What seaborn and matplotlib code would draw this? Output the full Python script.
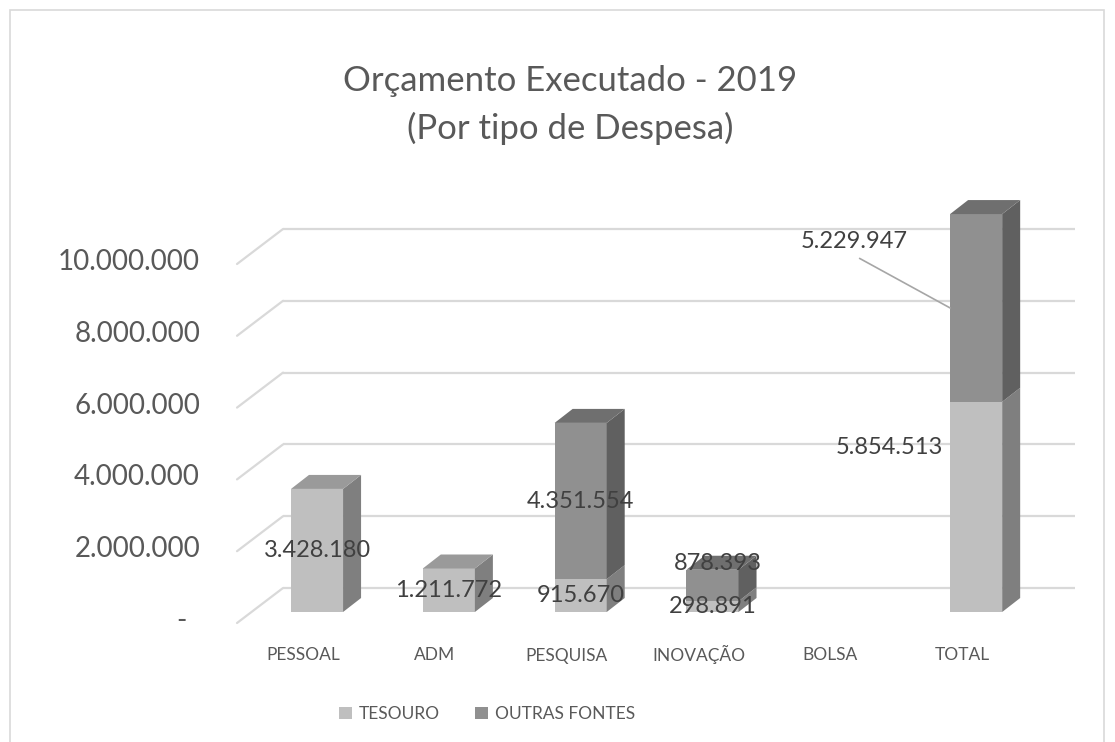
import numpy as np
import pandas as pd
import seaborn as sns
import matplotlib.pyplot as plt
import matplotlib.transforms as mtransforms
from matplotlib.patches import Polygon, Rectangle

# data
categorias = ["PESSOAL", "ADM", "PESQUISA", "INOVAÇÃO", "BOLSA", "TOTAL"]
tesouro = [3428180, 1211772, 915670, 298891, 0, 5854513]
outras_fontes = [0, 0, 4351554, 878393, 0, 5229947]
y_ticks = [0, 2000000, 4000000, 6000000, 8000000, 10000000]
y_tick_labels = ["-", "2.000.000", "4.000.000", "6.000.000", "8.000.000", "10.000.000"]
series_names = ["TESOURO", "OUTRAS FONTES"]

# colours (front, top, side)
cores_tesouro = ("#bfbfbf", "#9a9a9a", "#7f7f7f")
cores_outras = ("#909090", "#6f6f6f", "#606060")
texto_cor = "#595959"
grid_cor = "#d9d9d9"


def fmt_br(v):
    return f"{v:,}".replace(",", ".")


sns.set_theme(style="white")
plt.rcParams["font.family"] = ["Lato", "DejaVu Sans"]

fig = plt.figure(figsize=(11.15, 7.42), dpi=100)
W, H = 1115, 742
# axes in pixel terms: x 235..1075, y 192..623 (from top)
ax = fig.add_axes([235.3 / W, (H - 623) / H, (1075 - 235.3) / W, (623 - 192) / H])
ax.set_facecolor("none")

df = pd.DataFrame({"categoria": categorias, "tesouro": tesouro, "outras": outras_fontes})

sns.barplot(data=df, x="categoria", y="tesouro", color=cores_tesouro[0], width=0.395,
            saturation=1, ax=ax, zorder=3, linewidth=0)
n_first = len(ax.patches)
sns.barplot(data=df, x="categoria", y="outras", bottom=df["tesouro"], color=cores_outras[0],
            width=0.395, saturation=1, ax=ax, zorder=3, linewidth=0)

px_per_cat = 131.8
px_per_val = 35.9 / 1e6
ax.set_xlim(-0.62, 5.75)
ax.set_ylim(-11 / 35.9 * 1e6, (612 - 192) / 35.9 * 1e6)


def dx(px):
    return px / px_per_cat


def dy(px):
    return px / px_per_val


# gridlines: back wall + left floor diagonal
for v in y_ticks:
    ax.plot([dx(283 - 317), 5.75], [v + dy(24), v + dy(24)], color=grid_cor, lw=1.6,
            zorder=1, clip_on=False, solid_capstyle="butt")
    ax.plot([dx(237 - 317), dx(283 - 317)], [v - dy(11), v + dy(24)], color=grid_cor, lw=1.6,
            zorder=1, clip_on=False)

# 3D faces of the bars (depth offset 18 px right, 14 px up)
ddx, ddy = dx(18), dy(14)
for i, patch in enumerate(list(ax.patches)):
    h = patch.get_height()
    if h <= 0:
        continue
    is_first = i < n_first
    cores = cores_tesouro if is_first else cores_outras
    x0 = patch.get_x()
    x1 = x0 + patch.get_width()
    y0 = patch.get_y()
    y1 = y0 + h
    side = Polygon([(x1, y0), (x1 + ddx, y0 + ddy), (x1 + ddx, y1 + ddy), (x1, y1)],
                   closed=True, facecolor=cores[2], edgecolor="none", zorder=3)
    ax.add_patch(side)
    # top face only when nothing is stacked above
    if is_first and outras_fontes[i] > 0:
        continue
    top = Polygon([(x0, y1), (x1, y1), (x1 + ddx, y1 + ddy), (x0 + ddx, y1 + ddy)],
                  closed=True, facecolor=cores[1], edgecolor="none", zorder=3)
    ax.add_patch(top)

# data labels (offsets in px for the ones moved by hand)
ajustes = {("INOVAÇÃO", 1): (5, 22), ("TOTAL", 0): (-87, 59)}
for j, serie in enumerate([tesouro, outras_fontes]):
    for i, cat in enumerate(categorias):
        v = serie[i]
        if v <= 0:
            continue
        base = tesouro[i] if j == 1 else 0
        mid = base + v / 2
        if (cat, j) == ("TOTAL", 1):
            ax.annotate(fmt_br(v), xy=(i - 0.395 / 2, mid), xytext=(-96 * 0.72, 66 * 0.72),
                        textcoords="offset points", ha="center", va="center", fontsize=17,
                        color="#404040", zorder=5,
                        arrowprops=dict(arrowstyle="-", color="#a6a6a6", lw=1.2,
                                        relpos=(0.45, 0.0), shrinkA=4, shrinkB=0))
            continue
        ox, oy = ajustes.get((cat, j), (0, 0))
        ax.annotate(fmt_br(v), xy=(i, mid), xytext=(ox * 0.72, oy * 0.72),
                    textcoords="offset points", ha="center", va="center", fontsize=17,
                    color="#404040", zorder=5)

# y tick labels at the front end of the floor diagonals
for v, lab in zip(y_ticks, y_tick_labels):
    xr = dx(200 - 317) if lab != "-" else dx(187 - 317)
    ax.text(xr, v - dy(9), lab, ha="right", va="center", fontsize=20, color=texto_cor,
            clip_on=False)

ax.set_yticks([])
ax.set_xlabel("")
ax.set_ylabel("")
ax.tick_params(axis="x", length=0, pad=27, labelsize=12.5, labelcolor=texto_cor)
shift = mtransforms.ScaledTranslation(-14 / 100, 0, fig.dpi_scale_trans)
for lbl in ax.get_xticklabels():
    lbl.set_transform(lbl.get_transform() + shift)
    lbl.set_verticalalignment("baseline")
sns.despine(ax=ax, left=True, bottom=True)

# title
fig.text(570 / W, 1 - 105 / H, "Orçamento Executado - 2019\n(Por tipo de Despesa)",
         ha="center", va="center", fontsize=25, color=texto_cor, linespacing=1.55)

# legend
handles = [Rectangle((0, 0), 1, 1, facecolor=c[0], edgecolor="none")
           for c in (cores_tesouro, cores_outras)]
fig.legend(handles, series_names, loc="center", bbox_to_anchor=(487 / W, 1 - 714 / H),
           ncol=2, frameon=False, fontsize=12.5, handlelength=0.75, handleheight=0.75,
           handletextpad=0.4, columnspacing=2.05, labelcolor=texto_cor)

# chart border
fig.patches.append(Rectangle((10 / W, -0.05), (1104 - 10) / W, 1 - 10 / H + 0.05,
                             transform=fig.transFigure, fill=False, edgecolor="#d9d9d9",
                             lw=1.2))

fig.savefig("out.png", dpi=100)
